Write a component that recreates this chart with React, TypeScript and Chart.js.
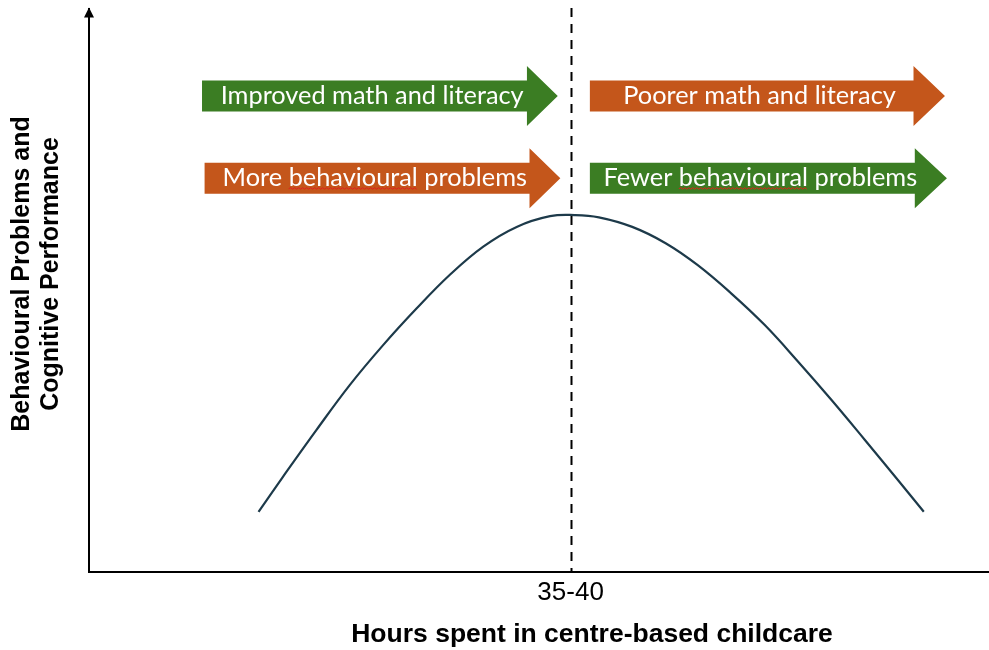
import React, { useEffect, useRef } from "react";
import { Chart, registerables } from "chart.js";

Chart.register(...registerables);

// ---- data ----
const hours = [13.2, 15.1, 17.7, 20.3, 22.9, 25.5, 28.1, 30.7, 33.3, 35.9, 37.8, 39.7, 42.3, 44.9, 47.4, 50.0, 52.6, 55.2, 57.8, 60.4, 63.0, 65.0];
const levels = [10.7, 16.9, 25.2, 33.2, 40.3, 46.8, 52.8, 57.8, 61.3, 63.2, 63.4, 63.0, 61.3, 58.4, 54.5, 49.5, 43.9, 37.4, 30.6, 23.5, 16.3, 10.7];
const tickValues = [37.5];
const tickLabels = ["35-40"];
const xTitle = "Hours spent in centre-based childcare";
const yTitleLines = ["Behavioural Problems and", "Cognitive Performance"];

// annotation arrows (in axis units)
const arrowLabels = ["Improved math and literacy", "More behavioural problems", "Poorer math and literacy", "Fewer behavioural problems"];
const arrowStart = [8.8, 9.0, 39.0, 39.0];
const arrowHeadStart = [34.1, 34.3, 64.2, 64.3];
const arrowTip = [36.5, 36.7, 66.65, 66.8];
const arrowLevel = [84.55, 69.95, 84.55, 69.95];
const arrowTone = ["green", "orange", "orange", "green"];
const flaggedWord = ["", "behavioural", "", "behavioural"];

const COLORS: Record<string, string> = { green: "#3b7d23", orange: "#c4561b" };

const overlayPlugin = {
  id: "overlay",
  afterDraw(chart: any) {
    const { ctx, chartArea, scales } = chart;
    const x = scales.x;
    const y = scales.y;
    ctx.save();

    // dashed reference line at the tick
    const dx = Math.round(x.getPixelForValue(tickValues[0])) + 0.5;
    ctx.strokeStyle = "#000";
    ctx.lineWidth = 2;
    ctx.setLineDash([9, 7]);
    ctx.beginPath();
    ctx.moveTo(dx, y.getPixelForValue(y.max) - 1);
    ctx.lineTo(dx, y.getPixelForValue(y.min));
    ctx.stroke();
    ctx.setLineDash([]);

    // arrowhead on the y axis
    const ax = chartArea.left;
    const at = chartArea.top;
    ctx.fillStyle = "#000";
    ctx.beginPath();
    ctx.moveTo(ax, at - 1.5);
    ctx.lineTo(ax - 5, at + 8.5);
    ctx.lineTo(ax + 5, at + 8.5);
    ctx.closePath();
    ctx.fill();

    // annotation arrows
    ctx.font = "100px Lato";
    const ref = ctx.measureText(arrowLabels[0]).width;
    const fs = (100 * 303) / ref;
    const font = `${fs.toFixed(2)}px Lato`;
    arrowLabels.forEach((label, i) => {
      const x0 = x.getPixelForValue(arrowStart[i]);
      const xh = x.getPixelForValue(arrowHeadStart[i]);
      const xt = x.getPixelForValue(arrowTip[i]);
      const cy = y.getPixelForValue(arrowLevel[i]);
      const bh = 15.5;
      const hh = 30;
      ctx.fillStyle = COLORS[arrowTone[i]];
      ctx.beginPath();
      ctx.moveTo(x0, cy - bh);
      ctx.lineTo(xh, cy - bh);
      ctx.lineTo(xh, cy - hh);
      ctx.lineTo(xt, cy);
      ctx.lineTo(xh, cy + hh);
      ctx.lineTo(xh, cy + bh);
      ctx.lineTo(x0, cy + bh);
      ctx.closePath();
      ctx.fill();

      ctx.font = font;
      ctx.fillStyle = "#ffffff";
      ctx.textAlign = "left";
      ctx.textBaseline = "alphabetic";
      const tw = ctx.measureText(label).width;
      const cx = (x0 + xh) / 2 + (xt - xh) / 4;
      const tx = cx - tw / 2;
      const base = cy + 8;
      ctx.fillText(label, tx, base);

      const word = flaggedWord[i];
      if (word) {
        const idx = label.indexOf(word);
        const wx = tx + ctx.measureText(label.slice(0, idx)).width;
        const ww = ctx.measureText(word).width;
        ctx.strokeStyle = "#e0201b";
        ctx.lineWidth = 1;
        ctx.beginPath();
        let up = true;
        ctx.moveTo(wx, base + 2.5);
        for (let px = wx + 2; px <= wx + ww; px += 2) {
          ctx.lineTo(px, base + (up ? 1.5 : 3));
          up = !up;
        }
        ctx.stroke();
      }
    });

    // axis titles
    ctx.fillStyle = "#000";
    ctx.font = "bold 26.5px 'Liberation Sans', Arial, sans-serif";
    ctx.textAlign = "center";
    ctx.textBaseline = "middle";
    ctx.fillText(xTitle, 592, 635);

    ctx.save();
    ctx.translate(0, 274);
    ctx.rotate(-Math.PI / 2);
    ctx.font = "bold 25px 'Liberation Sans', Arial, sans-serif";
    yTitleLines.forEach((line, i) => {
      ctx.fillText(line, 0, 22 + i * 29);
    });
    ctx.restore();

    ctx.restore();
  },
};

export default function App() {
  const ref = useRef<HTMLCanvasElement | null>(null);
  useEffect(() => {
    if (!ref.current) return;
    const chart = new Chart(ref.current, {
      type: "line",
      data: {
        datasets: [
          {
            data: hours.map((h, i) => ({ x: h, y: levels[i] })),
            borderColor: "#1d3a4a",
            borderWidth: 2.2,
            pointRadius: 0,
            tension: 0.4,
            fill: false,
          },
        ],
      },
      options: {
        animation: false,
        responsive: false,
        devicePixelRatio: 1,
        layout: { padding: { top: 9, right: 1, left: 0, bottom: 0 } },
        plugins: { legend: { display: false }, tooltip: { enabled: false }, title: { display: false } },
        scales: {
          x: {
            type: "linear",
            min: 0,
            max: 70,
            grid: { display: false, drawTicks: false },
            border: { display: true, color: "#000", width: 2 },
            afterBuildTicks: (s: any) => {
              s.ticks = tickValues.map((v) => ({ value: v }));
            },
            afterFit: (s: any) => {
              s.height = 78;
            },
            ticks: {
              padding: 5,
              color: "#000",
              font: { family: "'Liberation Sans', Arial, sans-serif", size: 26 },
              callback: (v: any) => {
                const i = tickValues.indexOf(Number(v));
                return i >= 0 ? tickLabels[i] : "";
              },
            },
          },
          y: {
            type: "linear",
            min: 0,
            max: 100,
            grid: { display: false, drawTicks: false },
            border: { display: true, color: "#000", width: 2 },
            ticks: { display: false },
            afterFit: (s: any) => {
              s.width = 89;
            },
          },
        },
      },
      plugins: [overlayPlugin],
    } as any);
    return () => chart.destroy();
  }, []);
  return (
    <div style={{ position: "absolute", left: 0, top: 0, width: 989, height: 650, background: "#fff" }}>
      <canvas ref={ref} width={989} height={650} style={{ display: "block" }} />
    </div>
  );
}
